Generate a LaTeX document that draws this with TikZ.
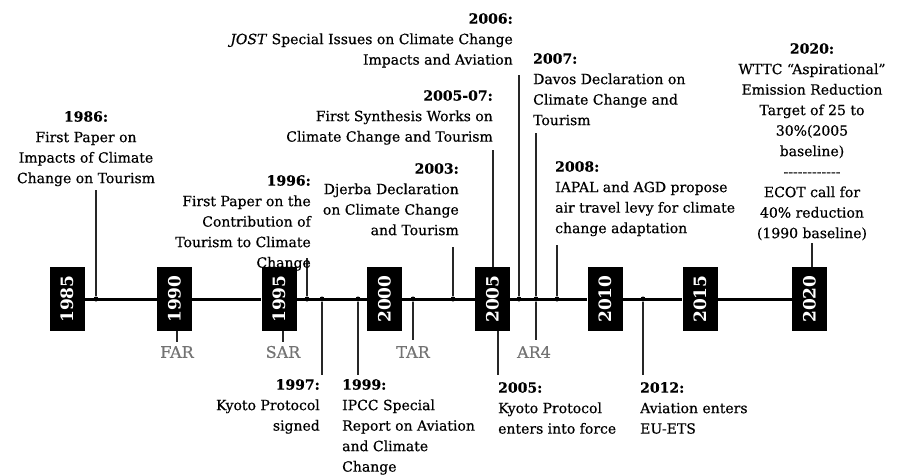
\documentclass[tikz,border=0pt]{standalone}
\usepackage{fontspec}
\setmainfont{DejaVu Serif}
\newfontfamily\evfont{DejaVu Serif}[FakeBold=0.5]
\begin{document}
\begin{tikzpicture}[x=1pt,y=-1pt,
  yearbox/.style={fill=black, minimum width=35pt, minimum height=64pt, inner sep=0pt, text=white, font=\fontsize{17}{18}\selectfont\bfseries},
  axisline/.style={line width=3pt},
  dot/.style={circle, fill=black, inner sep=0pt, minimum size=5pt},
  conn/.style={line width=1.2pt, draw=black!85},
  ev/.style={inner sep=0pt, font=\evfont\fontsize{14}{20.5}\selectfont},
  ipcc/.style={inner sep=0pt, text=black!55, font=\evfont\fontsize{16}{18}\selectfont},
]
\useasboundingbox (0,0) rectangle (902,475);
% year boxes
\node[yearbox] (y1985) at (67,299) {\rotatebox{90}{1985}};
\node[yearbox] (y1990) at (174.5,299) {\rotatebox{90}{1990}};
\node[yearbox] (y1995) at (279,299) {\rotatebox{90}{1995}};
\node[yearbox] (y2000) at (384.5,299) {\rotatebox{90}{2000}};
\node[yearbox] (y2005) at (492.5,299) {\rotatebox{90}{2005}};
\node[yearbox] (y2010) at (605,299) {\rotatebox{90}{2010}};
\node[yearbox] (y2015) at (700,299) {\rotatebox{90}{2015}};
\node[yearbox] (y2020) at (809.5,299) {\rotatebox{90}{2020}};
% axis
\draw[axisline] (y1985.east) -- (y1990.west) (y1990.east) -- (y1995.west)
  (y1995.east) -- (y2000.west) (y2000.east) -- (y2005.west)
  (y2005.east) -- (y2010.west) (y2010.east) -- (y2015.west)
  (y2015.east) -- (y2020.west);
% dots on axis
\node[dot] (d1986) at (96,299) {};
\node[dot] (d1996) at (307,299) {};
\node[dot] (d1997) at (322,299) {};
\node[dot] (d1999) at (358,299) {};
\node[dot] (dTAR) at (413,299) {};
\node[dot] (d2003) at (453,299) {};
\node[dot] (d2006) at (519,299) {};
\node[dot] (d2007) at (536,299) {};
\node[dot] (d2008) at (557,299) {};
\node[dot] (d2012) at (643,299) {};
% free ends of connectors
\coordinate (c1986) at (96,190);
\coordinate (c1996) at (307,258);
\coordinate (c1997) at (322,375);
\coordinate (c1999) at (358,375);
\coordinate (cTAR) at (413,340);
\coordinate (c2003) at (453,247);
\coordinate (c200507) at (493,150);
\coordinate (c2006) at (519,75);
\coordinate (c2007) at (536,133);
\coordinate (cAR4) at (536,340);
\coordinate (c2008) at (557,245);
\coordinate (c2005) at (498,375);
\coordinate (c2012) at (643,375);
\coordinate (c2020) at (812,243);
\coordinate (cFAR) at (177,342);
\coordinate (cSAR) at (283,342);
% connectors
\draw[conn] (c1986) -- (d1986);
\draw[conn] (c1996) -- (d1996);
\draw[conn] (d1997) -- (c1997);
\draw[conn] (d1999) -- (c1999);
\draw[conn] (dTAR) -- (cTAR);
\draw[conn] (c2003) -- (d2003);
\draw[conn] (c200507) -- (c200507 |- y2005.north);
\draw[conn] (c2006) -- (d2006);
\draw[conn] (c2007) -- (d2007);
\draw[conn] (d2007) -- (cAR4);
\draw[conn] (c2008) -- (d2008);
\draw[conn] (c2005 |- y2005.south) -- (c2005);
\draw[conn] (d2012) -- (c2012);
\draw[conn] (c2020) -- (c2020 |- y2020.north);
\draw[conn] (cFAR |- y1990.south) -- (cFAR);
\draw[conn] (cSAR |- y1995.south) -- (cSAR);
% IPCC report labels
\node[ipcc] (far) at (177,352) {FAR};
\node[ipcc] (sar) at (283,352) {SAR};
\node[ipcc] (tar) at (413,352) {TAR};
\node[ipcc] (ar4) at (534,352) {AR4};
% events above
\node[ev, anchor=north, align=center] (t1986) at (86,111)
  {\textbf{1986:}\\First Paper on\\Impacts of Climate\\Change on Tourism};
\node[ev, anchor=north east, align=right] (t1996) at (311,175)
  {\textbf{1996:}\\First Paper on the\\Contribution of\\Tourism to Climate\\Change};
\node[ev, anchor=north east, align=right] (t2003) at (459,163)
  {\textbf{2003:}\\Djerba Declaration\\on Climate Change\\and Tourism};
\node[ev, anchor=north east, align=right] (t200507) at (493,90)
  {\textbf{2005-07:}\\First Synthesis Works on\\Climate Change and Tourism};
\node[ev, anchor=north east, align=right] (t2006) at (513,13)
  {\textbf{2006:}\\\textit{JOST} Special Issues on Climate Change\\Impacts and Aviation};
\node[ev, anchor=north west, align=left] (t2007) at (533,53)
  {\textbf{2007:}\\Davos Declaration on\\Climate Change and\\Tourism};
\node[ev, anchor=north west, align=left] (t2008) at (555,161)
  {\textbf{2008:}\\IAPAL and AGD propose\\air travel levy for climate\\change adaptation};
\node[ev, anchor=north, align=center] (t2020) at (812,43)
  {\textbf{2020:}\\WTTC “Aspirational”\\Emission Reduction\\Target of 25 to\\30\%(2005\\baseline)\\-{}-{}-{}-{}-{}-{}-{}-{}-{}-{}-{}-\\ECOT call for\\40\% reduction\\(1990 baseline)};
% events below
\node[ev, anchor=north east, align=right] (t1997) at (320,379)
  {\textbf{1997:}\\Kyoto Protocol\\signed};
\node[ev, anchor=north west, align=left] (t1999) at (342,379)
  {\textbf{1999:}\\IPCC Special\\Report on Aviation\\and Climate\\Change};
\node[ev, anchor=north west, align=left] (t2005) at (498,382)
  {\textbf{2005:}\\Kyoto Protocol\\enters into force};
\node[ev, anchor=north west, align=left] (t2012) at (640,382)
  {\textbf{2012:}\\Aviation enters\\EU-ETS};
\end{tikzpicture}
\end{document}
